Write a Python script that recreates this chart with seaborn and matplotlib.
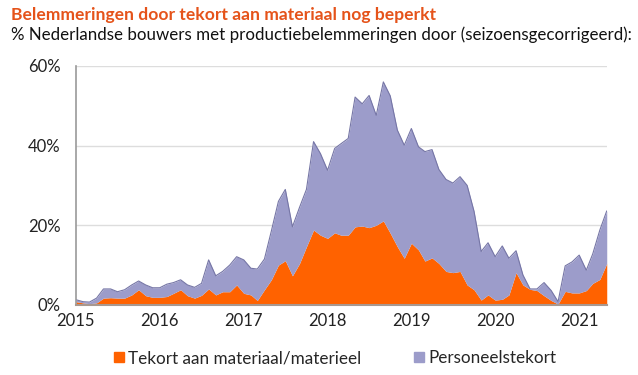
import pandas as pd
import matplotlib.pyplot as plt
import matplotlib.dates as mdates
from matplotlib.lines import Line2D
import seaborn as sns

# monthly, seasonally adjusted, % of Dutch builders
months = pd.date_range("2015-01-01", "2021-05-01", freq="MS")
materiaal = [0.8, 0.5, 0.3, 0.5, 1.7, 1.8, 1.7, 1.7, 2.5, 3.8, 2.3, 1.9,
             1.9, 2.1, 2.9, 3.8, 2.3, 1.7, 2.4, 4.0, 2.5, 3.3, 3.3, 5.0,
             2.9, 2.5, 1.1, 3.8, 6.3, 10.0, 11.1, 7.3, 10.4, 14.6, 18.8, 17.5,
             16.7, 18.1, 17.5, 17.5, 19.6, 19.8, 19.4, 20.0, 21.1, 18.0, 14.6, 11.7,
             15.5, 13.8, 11.0, 11.8, 10.4, 8.4, 8.1, 8.4, 5.0, 3.8, 1.2, 2.5,
             1.2, 1.4, 2.5, 8.1, 5.0, 3.9, 3.6, 2.3, 1.1, 0.2, 3.4, 3.0,
             3.0, 3.6, 5.4, 6.4, 10.4]
personeel = [0.5, 0.3, 0.4, 1.2, 2.3, 2.2, 1.6, 2.1, 2.5, 2.2, 2.7, 2.4,
             2.4, 3.1, 2.7, 2.5, 2.7, 2.7, 3.0, 7.3, 4.8, 5.1, 6.7, 7.1,
             8.4, 6.7, 7.9, 7.7, 12.2, 16.0, 17.9, 12.3, 14.1, 14.4, 22.2, 20.5,
             17.1, 21.2, 23.0, 24.3, 32.6, 30.7, 33.2, 27.6, 34.9, 34.5, 29.3, 28.4,
             28.8, 25.9, 27.5, 27.2, 23.6, 23.1, 22.5, 23.8, 25.0, 19.7, 12.2, 13.1,
             10.9, 13.4, 9.2, 5.5, 2.5, 0.1, 0.4, 3.3, 2.5, 0.6, 6.4, 7.8,
             9.5, 5.1, 7.4, 12.4, 13.2]
labels = ["Tekort aan materiaal/materieel", "Personeelstekort"]

df = pd.DataFrame({"maand": months, "materiaal": materiaal, "personeel": personeel})
df["totaal"] = df["materiaal"] + df["personeel"]

sns.set_theme(style="white")
plt.rcParams["font.family"] = ["Lato", "DejaVu Sans"]

oranje = "#FF6200"
paars = "#9C9CCA"

fig = plt.figure(figsize=(6.38, 3.75), dpi=100)
ax = fig.add_axes([0.119, 0.187, 0.832, 0.637])

ax.stackplot(df["maand"], df["materiaal"], df["personeel"],
             colors=[oranje, paars], linewidth=0)
sns.lineplot(data=df, x="maand", y="totaal", ax=ax, color="#7676A6", linewidth=0.8)

ax.set_xlim(months[0], months[-1])
ax.set_ylim(0, 60)
ax.set_yticks([0, 20, 40, 60])
ax.set_yticklabels(["0%", "20%", "40%", "60%"])
ax.xaxis.set_major_locator(mdates.YearLocator())
ax.xaxis.set_major_formatter(mdates.DateFormatter("%Y"))
ax.set_xlabel("")
ax.set_ylabel("")
ax.grid(axis="y", color="#dddddd", linewidth=1)
ax.set_axisbelow(True)
ax.tick_params(axis="y", length=0, pad=11, labelsize=12, colors="#222222")
ax.tick_params(axis="x", length=0, pad=6, labelsize=12, colors="#222222")
for s in ["top", "right"]:
    ax.spines[s].set_visible(False)
ax.spines["left"].set_color("#999999")
ax.spines["left"].set_linewidth(1.2)
ax.spines["bottom"].set_color("#a89890")
ax.spines["bottom"].set_linewidth(1.5)

fig.text(0.018, 0.947, "Belemmeringen door tekort aan materiaal nog beperkt",
         color="#E5531A", fontsize=12.6, fontweight="bold", va="baseline")
fig.text(0.018, 0.893, "% Nederlandse bouwers met productiebelemmeringen door (seizoensgecorrigeerd):",
         color="#111111", fontsize=12.2, va="baseline")

handles = [Line2D([], [], marker="s", linestyle="", color=c, markersize=7.5)
           for c in [oranje, paars]]
fig.legend(handles, labels, loc="center", bbox_to_anchor=(0.524, 0.045), ncol=2,
           frameon=False, fontsize=12.3, handletextpad=0.15, columnspacing=3.0,
           handlelength=0.8)

plt.savefig("out.png", dpi=100)
